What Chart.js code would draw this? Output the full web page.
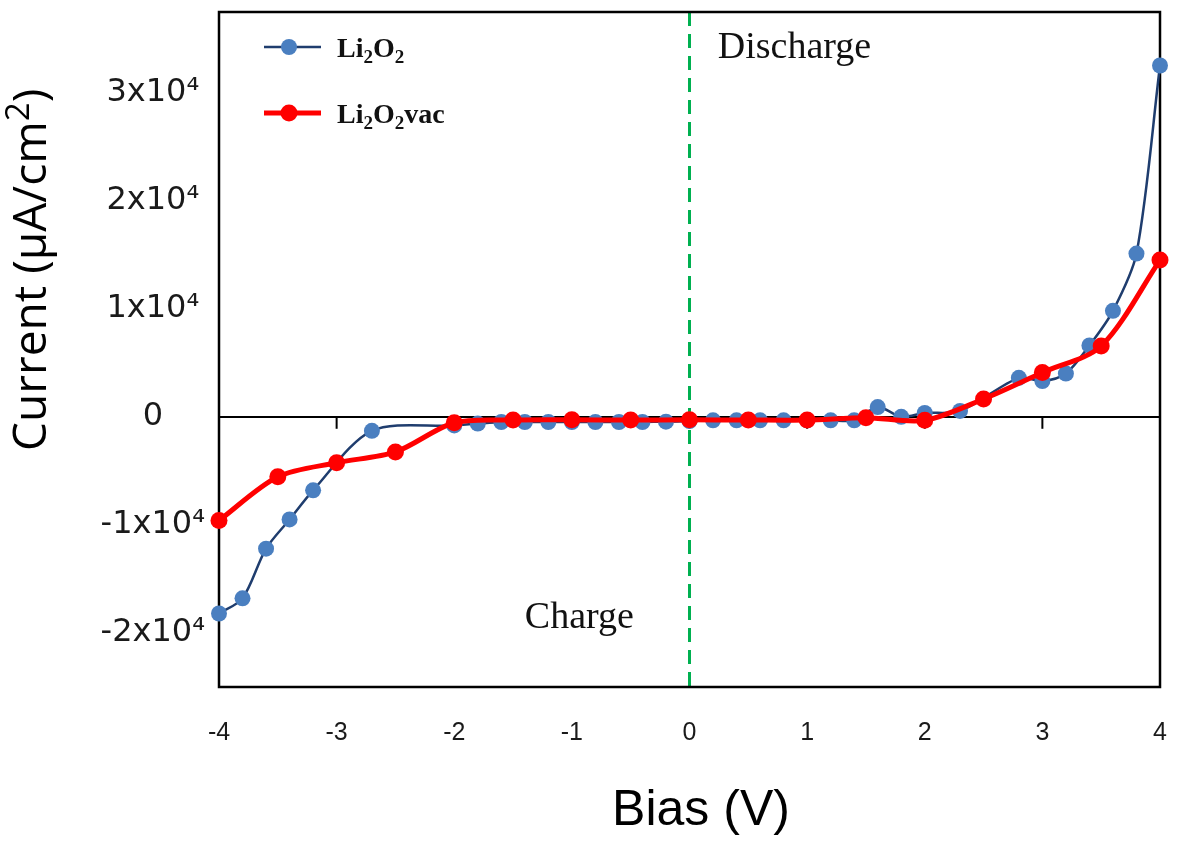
<!DOCTYPE html>
<html><head><meta charset="utf-8">
<script src="https://cdn.jsdelivr.net/npm/chart.js@4.4.0/dist/chart.umd.min.js"></script>
<style>html,body{margin:0;padding:0;background:#fff}#wrap{width:1177px;height:841px}</style>
</head><body><div id="wrap"><canvas id="c" width="1177" height="841"></canvas></div>
<script>
// ---- data ----
const biasLi2O2 = [-4, -3.8, -3.6, -3.4, -3.2, -2.7, -2.0, -1.8, -1.6, -1.4, -1.2, -1.0, -0.8, -0.6, -0.4, -0.2, 0, 0.2, 0.4, 0.6, 0.8, 1.0, 1.2, 1.4, 1.6, 1.8, 2.0, 2.3, 2.8, 3.0, 3.2, 3.4, 3.6, 3.8, 4.0];
const currentLi2O2 = [-18200, -16800, -12200, -9500, -6800, -1300, -800, -630, -480, -480, -480, -480, -480, -480, -480, -450, -400, -330, -330, -330, -330, -330, -330, -330, 900, 0, 350, 540, 3600, 3300, 4000, 6600, 9800, 15100, 32500];
const biasLi2O2vac = [-4, -3.5, -3, -2.5, -2, -1.5, -1, -0.5, 0, 0.5, 1, 1.5, 2, 2.5, 3, 3.5, 4];
const currentLi2O2vac = [-9600, -5550, -4250, -3250, -550, -300, -280, -300, -280, -300, -300, -80, -320, 1650, 4100, 6550, 14500];
const seriesNames = ['Li₂O₂', 'Li₂O₂vac'];
const xTicks = [-4, -3, -2, -1, 0, 1, 2, 3, 4];
const yTicks = [-20000, -10000, 0, 10000, 20000, 30000];
const xTitle = 'Bias (V)';
const yTitle = 'Current (μA/cm²)';
const annotations = [
  {text: 'Discharge', x: 0.24, y: 33200},
  {text: 'Charge', x: -1.40, y: -19500}
];

const toPts = (xs, ys) => xs.map((v, i) => ({x: v, y: ys[i]}));

// draw text where ₂ is a subscript and ² a superscript
function richText(ctx, str, x, y, size, weight, family) {
  let cx = x;
  for (const ch of str) {
    let c = ch, s = size, dy = 0;
    if (ch === '₂') { c = '2'; s = size * 0.68; dy = size * 0.22; }
    else if (ch === '²') { c = '2'; s = size * 0.72; dy = -size * 0.38; }
    ctx.font = `${weight} ${s}px ${family}`;
    ctx.fillText(c, cx, y + dy);
    cx += ctx.measureText(c).width;
  }
  return cx;
}

const zeroPad = s => { s.paddingTop = 0; s.paddingBottom = 0; s.paddingLeft = 0; s.paddingRight = 0; };

const decor = {
  id: 'decor',
  beforeDatasetsDraw(chart) {
    const {ctx, chartArea: a, scales: {x, y}} = chart;
    ctx.save();
    const y0 = y.getPixelForValue(0);
    ctx.strokeStyle = '#000'; ctx.lineWidth = 2;
    xTicks.forEach(v => {
      const px = x.getPixelForValue(v);
      ctx.beginPath(); ctx.moveTo(px, y0); ctx.lineTo(px, y0 + 12); ctx.stroke();
    });
    const x0 = x.getPixelForValue(0);
    ctx.strokeStyle = '#00b050'; ctx.lineWidth = 3; ctx.setLineDash([14, 8]);
    ctx.beginPath(); ctx.moveTo(x0, a.top); ctx.lineTo(x0, a.bottom); ctx.stroke();
    ctx.setLineDash([]);
    ctx.strokeStyle = '#000'; ctx.lineWidth = 2.5;
    ctx.strokeRect(a.left, a.top, a.right - a.left, a.bottom - a.top);
    ctx.restore();
  },
  afterDatasetsDraw(chart) {
    const {ctx, chartArea: a, scales: {x, y}} = chart;
    ctx.save();
    // legend
    chart.data.datasets.forEach((ds, i) => {
      const ly = a.top + 35 + i * 66;
      const lx = a.left + 45;
      ctx.strokeStyle = ds.borderColor; ctx.lineWidth = ds.borderWidth;
      ctx.beginPath(); ctx.moveTo(lx, ly); ctx.lineTo(lx + 57, ly); ctx.stroke();
      ctx.fillStyle = ds.pointBackgroundColor;
      ctx.beginPath(); ctx.arc(lx + 25, ly, ds.pointRadius, 0, Math.PI * 2); ctx.fill();
      ctx.fillStyle = '#111'; ctx.textBaseline = 'alphabetic'; ctx.textAlign = 'left';
      richText(ctx, ds.label, lx + 73, ly + 10, 28, 'bold', "'Liberation Serif', serif");
    });
    // annotations
    ctx.fillStyle = '#111';
    ctx.font = "38px 'Liberation Serif', serif";
    annotations.forEach(t => ctx.fillText(t.text, x.getPixelForValue(t.x), y.getPixelForValue(t.y)));
    ctx.restore();
  },
  afterDraw(chart) {
    const {ctx} = chart;
    ctx.save();
    ctx.fillStyle = '#000'; ctx.textBaseline = 'alphabetic'; ctx.textAlign = 'left';
    // x title
    ctx.font = "50px 'Liberation Sans', sans-serif";
    const w = ctx.measureText(xTitle).width;
    ctx.fillText(xTitle, 701 - w / 2, 825);
    // y title
    ctx.translate(46, 451);
    ctx.rotate(-Math.PI / 2);
    richText(ctx, yTitle, 0, 0, 46, 'normal', "'Open Sans', sans-serif");
    ctx.restore();
  }
};

new Chart(document.getElementById('c'), {
  type: 'line',
  data: {
    datasets: [
      {
        label: seriesNames[0], data: toPts(biasLi2O2, currentLi2O2),
        borderColor: '#1f3d6e', borderWidth: 2.5, pointBackgroundColor: '#4a7fc0',
        pointBorderColor: '#4a7fc0', pointBorderWidth: 0, pointRadius: 8,
        tension: 0.3, order: 2, clip: false
      },
      {
        label: seriesNames[1], data: toPts(biasLi2O2vac, currentLi2O2vac),
        borderColor: '#ff0000', borderWidth: 5, pointBackgroundColor: '#ff0000',
        pointBorderColor: '#ff0000', pointBorderWidth: 0, pointRadius: 8.5,
        tension: 0.3, order: 1, clip: false
      }
    ]
  },
  options: {
    responsive: false, animation: false, devicePixelRatio: 1,
    layout: {padding: {left: 0, right: 17, top: 12, bottom: 0}},
    plugins: {legend: {display: false}, tooltip: {enabled: false}},
    scales: {
      x: {
        type: 'linear', min: -4, max: 4,
        afterBuildTicks: s => { s.ticks = xTicks.map(v => ({value: v})); },
        afterFit: s => { s.height = 154; zeroPad(s); },
        grid: {display: false, drawTicks: false},
        border: {display: false},
        ticks: {padding: 31, color: '#1a1a1a', font: {family: "'Liberation Sans', sans-serif", size: 25},
          maxRotation: 0, callback: v => String(v)}
      },
      y: {
        type: 'linear', min: -25000, max: 37450,
        afterBuildTicks: s => { s.ticks = yTicks.map(v => ({value: v})); },
        afterFit: s => { s.width = 219; zeroPad(s); },
        grid: {drawTicks: false, lineWidth: 2,
          color: c => (c.tick && c.tick.value === 0) ? '#000' : 'rgba(0,0,0,0)'},
        border: {display: false},
        ticks: {padding: 14, crossAlign: 'center', color: '#1a1a1a',
          font: {family: "'DejaVu Sans', sans-serif", size: 32},
          callback: v => v === 0 ? '0' : `${v / 10000}x10⁴`}
      }
    }
  },
  plugins: [decor]
});
</script>
</body></html>
